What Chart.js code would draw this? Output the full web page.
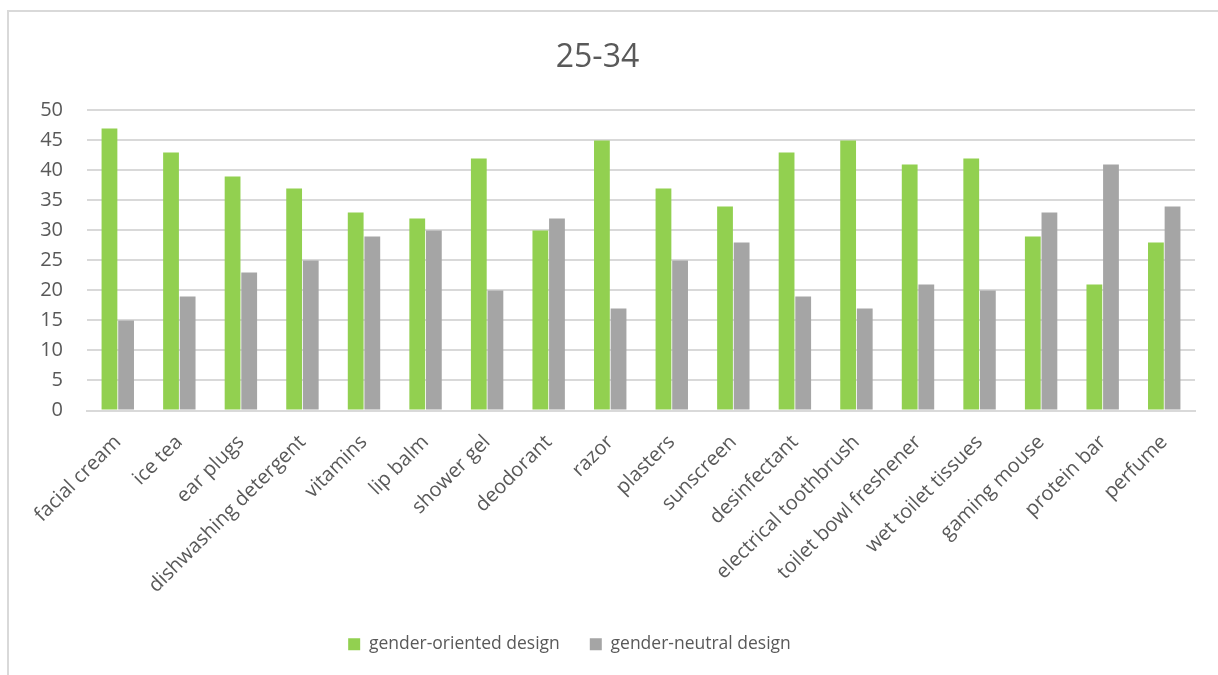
<!DOCTYPE html>
<html>
<head>
<meta charset="utf-8">
<script src="https://cdn.jsdelivr.net/npm/chart.js@4.4.0/dist/chart.umd.min.js"></script>
<style>
    html, body { margin: 0; padding: 0; background: #fff; overflow: hidden; }
    #wrap { position: relative; width: 1218px; height: 675px; }
    #frame {
        position: absolute; left: 7px; top: 10px;
        width: 1300px; height: 800px;
        border: 2px solid #d9d9d9;
    }
    #chart { position: absolute; left: 0; top: 0; }
</style>
</head>
<body>
<div id="wrap">
    <div id="frame"></div>
    <canvas id="chart" width="1218" height="675"></canvas>
</div>
<script>
// --- data ---
const categories = [
    'facial cream', 'ice tea', 'ear plugs', 'dishwashing detergent', 'vitamins',
    'lip balm', 'shower gel', 'deodorant', 'razor', 'plasters', 'sunscreen',
    'desinfectant', 'electrical toothbrush', 'toilet bowl freshener',
    'wet toilet tissues', 'gaming mouse', 'protein bar', 'perfume'
];
const genderOriented = [47, 43, 39, 37, 33, 32, 42, 30, 45, 37, 34, 43, 45, 41, 42, 29, 21, 28];
const genderNeutral  = [15, 19, 23, 25, 29, 30, 20, 32, 17, 25, 28, 19, 17, 21, 20, 33, 41, 34];
const yTicks = [0, 5, 10, 15, 20, 25, 30, 35, 40, 45, 50];

const TEXT = '#595959';
const GRID = '#d9d9d9';
const FONT = "'Open Sans', sans-serif";

// shift the legend a bit left, like Excel does
const legendShift = {
    id: 'legendShift',
    afterLayout(chart) {
        const lg = chart.legend;
        if (!lg) return;
        lg.left -= 28;
        lg.right -= 28;
        if (lg.adjustHitBoxes) lg.adjustHitBoxes();
    }
};

new Chart(document.getElementById('chart'), {
    type: 'bar',
    data: {
        labels: categories,
        datasets: [
            {
                label: 'gender-oriented design',
                data: genderOriented,
                backgroundColor: '#92d050',
                categoryPercentage: 0.54,
                barPercentage: 0.95
            },
            {
                label: 'gender-neutral design',
                data: genderNeutral,
                backgroundColor: '#a5a5a5',
                categoryPercentage: 0.54,
                barPercentage: 0.95
            }
        ]
    },
    options: {
        responsive: false,
        animation: false,
        layout: { padding: { left: 0, right: 23, top: 0, bottom: 12 } },
        plugins: {
            title: {
                display: true,
                text: '25-34',
                color: TEXT,
                font: { family: FONT, size: 32, weight: 'normal' },
                padding: { top: 39, bottom: 33 }
            },
            legend: {
                position: 'bottom',
                labels: {
                    color: TEXT,
                    font: { family: FONT, size: 17.5 },
                    boxWidth: 12,
                    boxHeight: 12,
                    padding: 30
                }
            },
            tooltip: { enabled: false }
        },
        scales: {
            x: {
                grid: { display: false },
                border: { display: true, color: GRID, width: 2 },
                ticks: {
                    color: TEXT,
                    font: { family: FONT, size: 20 },
                    maxRotation: 45,
                    minRotation: 45,
                    autoSkip: false,
                    padding: 12
                },
                afterFit(scale) { scale.height = 195; }
            },
            y: {
                min: 0,
                max: 50,
                afterBuildTicks(scale) { scale.ticks = yTicks.map(v => ({ value: v })); },
                grid: { color: GRID, lineWidth: 2, drawTicks: false },
                border: { display: false },
                ticks: {
                    color: TEXT,
                    font: { family: FONT, size: 20 },
                    padding: 24
                },
                afterFit(scale) { scale.width = 87; }
            }
        }
    },
    plugins: [legendShift]
});
</script>
</body>
</html>
